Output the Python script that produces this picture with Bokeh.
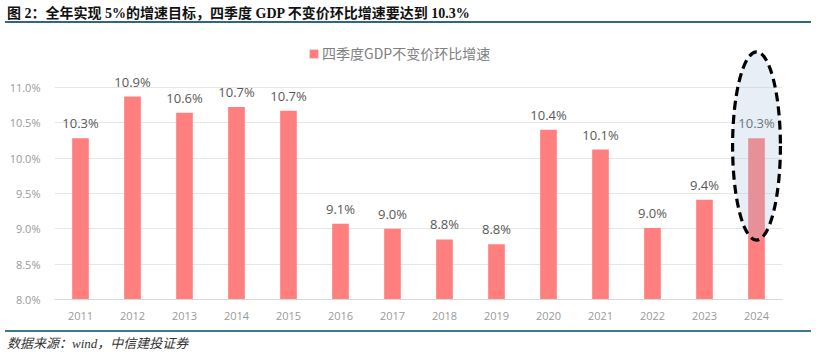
from bokeh.plotting import figure
from bokeh.models import (FactorRange, Range1d, FixedTicker, PrintfTickFormatter, Div,
                          ColumnDataSource, LabelSet)
from bokeh.layouts import column
from bokeh.core.properties import value
from bokeh.embed import file_html
from bokeh.resources import INLINE

# ---- data ----
years = ["2011", "2012", "2013", "2014", "2015", "2016", "2017",
         "2018", "2019", "2020", "2021", "2022", "2023", "2024"]
growth = [10.28, 10.87, 10.64, 10.72, 10.67, 9.07, 9.00,
          8.85, 8.78, 10.40, 10.12, 9.01, 9.41, 10.28]
labels = ["10.3%", "10.9%", "10.6%", "10.7%", "10.7%", "9.1%", "9.0%",
          "8.8%", "8.8%", "10.4%", "10.1%", "9.0%", "9.4%", "10.3%"]
y_ticks = [8.0, 8.5, 9.0, 9.5, 10.0, 10.5, 11.0]
series_name = "四季度GDP不变价环比增速"
title_text = "图 2：全年实现 5%的增速目标，四季度 GDP 不变价环比增速要达到 10.3%"
source_text = "数据来源：wind，中信建投证券"
highlight_year = ["2024"]
highlight_center = [10.17]
highlight_height = 2.66

src = ColumnDataSource(dict(year=years, value=growth, label=labels))

p = figure(x_range=FactorRange(*years), y_range=Range1d(8.0, 11.69),
           frame_width=728, frame_height=261,
           min_border_left=54, min_border_right=26, min_border_top=8, min_border_bottom=26,
           output_backend="svg", toolbar_location=None)

p.vbar(x="year", top="value", bottom=8.0, width=0.32, source=src,
       fill_color="#FF7F7F", line_color=None, legend_label=series_name)

lbl = LabelSet(x="year", y="value", text="label", source=src, y_offset=6,
               text_align="center", text_baseline="bottom",
               text_font=value("Open Sans"), text_font_size="13px", text_color="#595959")
p.add_layout(lbl)

el = p.ellipse(x=highlight_year, y=highlight_center, width=0.92, height=highlight_height,
               fill_color="#a8c0dc", fill_alpha=0.27, line_color="black",
               line_width=3.2, line_dash="9 5")
el.level = "overlay"

p.yaxis.ticker = FixedTicker(ticks=y_ticks)
p.yaxis.formatter = PrintfTickFormatter(format="%.1f%%")
p.yaxis.axis_line_color = None
p.yaxis.major_tick_line_color = None
p.yaxis.minor_tick_line_color = None
p.yaxis.major_label_text_color = "#9a9a9a"
p.yaxis.major_label_text_font_size = "11px"
p.yaxis.major_label_text_font = "Open Sans"
p.yaxis.major_label_standoff = 8

p.xaxis.axis_line_color = "#d9d9d9"
p.xaxis.major_tick_line_color = None
p.xaxis.minor_tick_line_color = None
p.xaxis.major_label_text_color = "#9a9a9a"
p.xaxis.major_label_text_font_size = "11px"
p.xaxis.major_label_text_font = "Open Sans"
p.xaxis.major_label_standoff = 6

p.xgrid.visible = False
p.ygrid.grid_line_color = "#e6e6e6"
p.outline_line_color = None

p.legend.location = (254, 236)
p.legend.orientation = "horizontal"
p.legend.label_text_font_size = "14px"
p.legend.label_text_color = "#808080"
p.legend.label_text_font = "Noto Sans CJK SC"
p.legend.border_line_color = None
p.legend.background_fill_alpha = 0
p.legend.glyph_width = 11
p.legend.glyph_height = 11
p.legend.margin = 2
p.legend.padding = 3
p.legend.label_standoff = 3

title_div = Div(text=(
    '<div style="width:806px;height:18px;border-bottom:2px solid #2f6585;'
    'font-family:\'Liberation Serif\',\'Noto Sans CJK SC\';font-weight:bold;'
    'font-size:14px;line-height:18px;color:#111;padding-left:2px;white-space:nowrap;">'
    + title_text + '</div>'), width=808, height=20)

source_div = Div(text=(
    '<div style="width:806px;border-top:2px solid #3a7a8e;padding-top:3px;'
    'font-family:\'Liberation Serif\',\'Noto Sans CJK SC\';font-style:italic;'
    'font-size:13px;line-height:18px;color:#333;padding-left:2px;white-space:nowrap;">'
    + source_text + '</div>'), width=808, height=26)

layout = column(title_div, p, source_div, spacing=0)

open("out.html", "w").write(file_html(layout, INLINE))
